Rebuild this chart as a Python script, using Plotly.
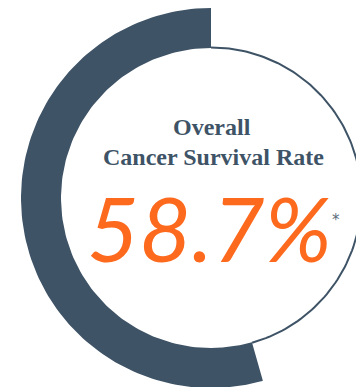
import numpy as np
import plotly.graph_objects as go

# ---- data ----
ring_segments = [50.0, 4.4]          # share of circle filled by the dark ring (percent), from 12 o'clock counter-clockwise
title_lines = ["Overall", "Cancer Survival Rate"]
rate_label = "58.7%"
footnote_mark = "*"

# ---- style / geometry ----
DARK = "#3e5366"
ORANGE = "#fd6a1e"
R_OUT, R_IN = 190, 150
W, H = 356, 387
CX_PX, CY_PX = 211, 198  # centre of the ring in pixels


def arc(r, a0, a1, n=120):
    t = np.radians(np.linspace(a0, a1, n))
    return -r * np.sin(t), r * np.cos(t)


fig = go.Figure()

start = 0.0
for seg in ring_segments:
    a0 = start / 100 * 360
    a1 = (start + seg) / 100 * 360
    xo, yo = arc(R_OUT, a0, a1)
    xi, yi = arc(R_IN, a1, a0)
    fig.add_trace(go.Scatter(
        x=np.concatenate([xo, xi, xo[:1]]), y=np.concatenate([yo, yi, yo[:1]]),
        mode="lines", fill="toself", fillcolor=DARK, line=dict(width=0),
        hoverinfo="skip", showlegend=False))
    start += seg

# thin outline for the remaining part of the circle
xr, yr = arc(R_IN + 0.5, start / 100 * 360, 360)
fig.add_trace(go.Scatter(x=xr, y=yr, mode="lines", line=dict(color=DARK, width=2),
                         hoverinfo="skip", showlegend=False))

serif = "Liberation Serif, Times New Roman, serif"
fig.add_annotation(x=1, y=CY_PX - 127, text=title_lines[0], showarrow=False,
                   xanchor="center", yanchor="middle",
                   font=dict(family=serif, size=24, color=DARK, weight="bold"))
fig.add_annotation(x=2, y=CY_PX - 157, text=title_lines[1], showarrow=False,
                   xanchor="center", yanchor="middle",
                   font=dict(family=serif, size=24, color=DARK, weight="bold"))
fig.add_annotation(x=-2, y=CY_PX - 227, text=rate_label, showarrow=False,
                   xanchor="center", yanchor="middle", borderpad=0,
                   font=dict(family="Lato, Open Sans, sans-serif", size=90,
                             color=ORANGE, style="italic", weight=400))
fig.add_annotation(x=336 - CX_PX, y=CY_PX - 220, text=footnote_mark, showarrow=False,
                   xanchor="center", yanchor="middle", borderpad=0,
                   font=dict(family="DejaVu Sans", size=15, color="#5c6d7a"))

fig.update_xaxes(range=[-CX_PX, W - CX_PX], visible=False, fixedrange=True)
fig.update_yaxes(range=[CY_PX - H, CY_PX], visible=False, fixedrange=True)
fig.update_layout(width=W, height=H, margin=dict(l=0, r=0, t=0, b=0),
                  plot_bgcolor="white", paper_bgcolor="white", showlegend=False)

fig.write_html("out.html", config={"displayModeBar": False, "staticPlot": True})
